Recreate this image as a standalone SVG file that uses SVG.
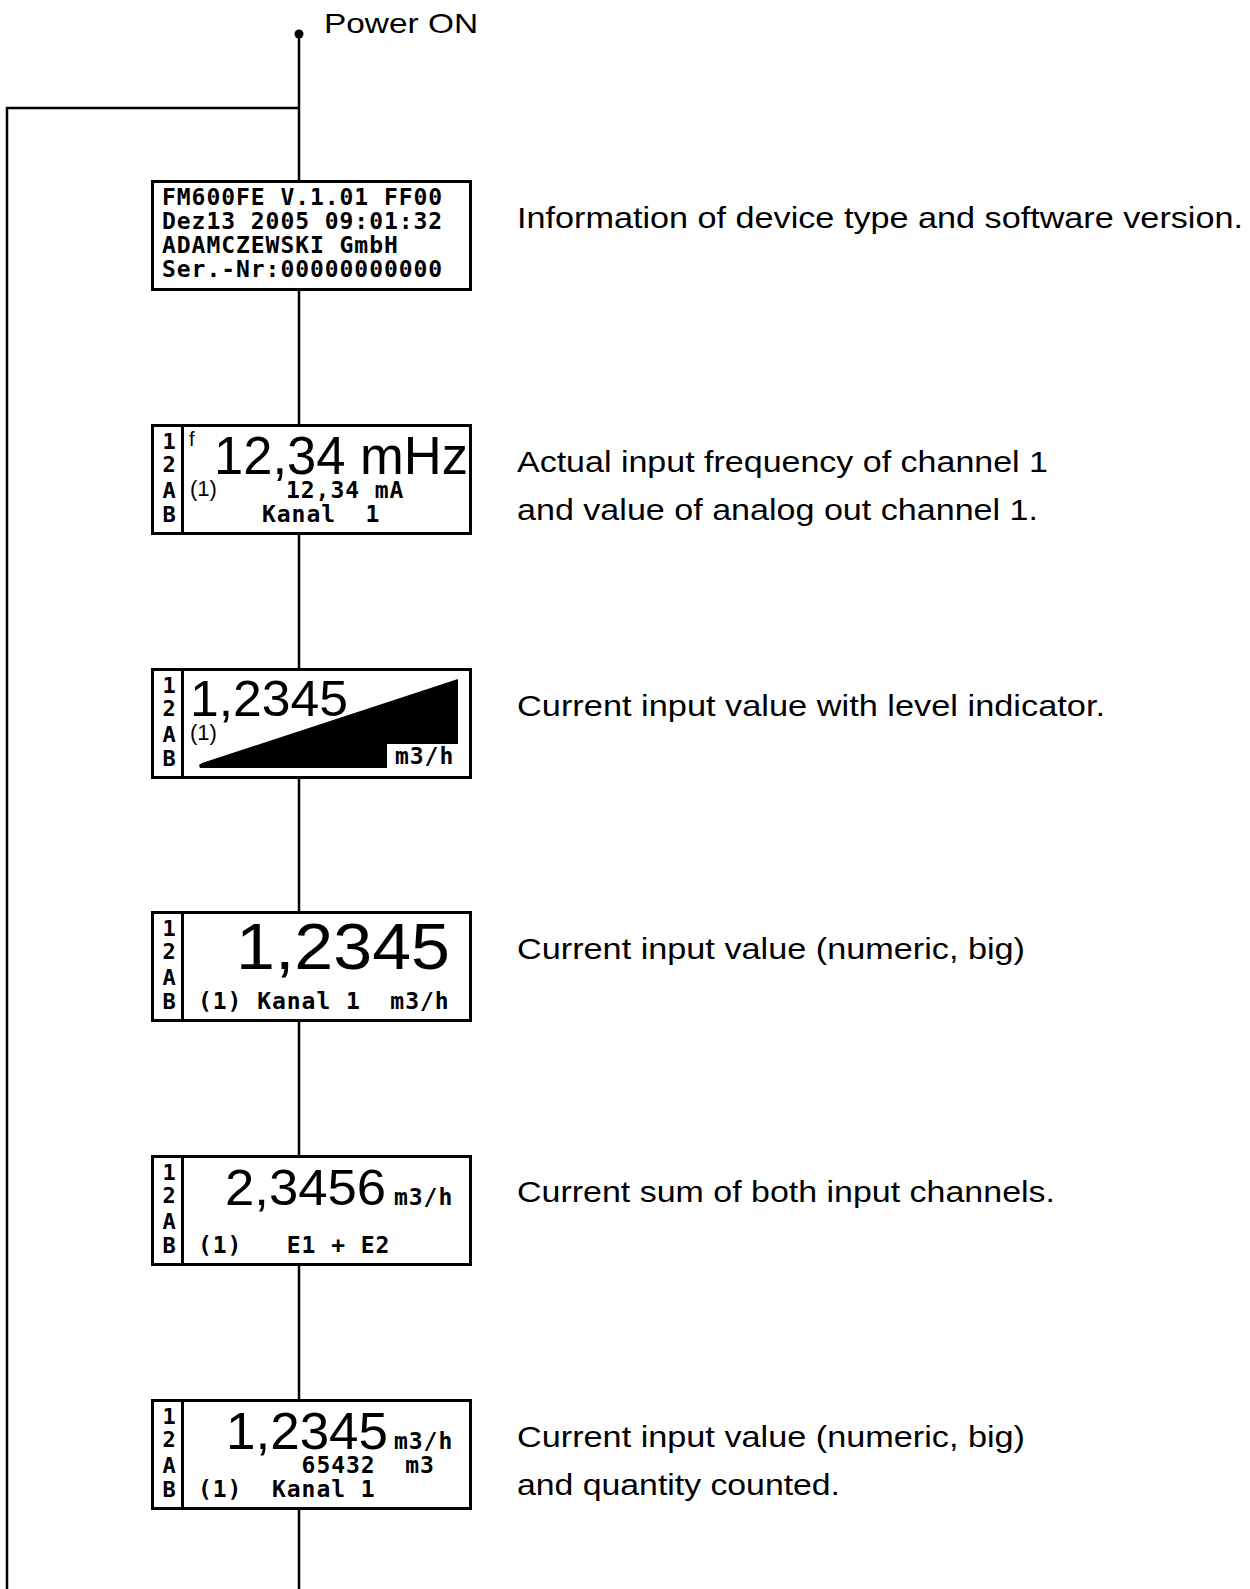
<svg xmlns="http://www.w3.org/2000/svg" width="1250" height="1589" viewBox="0 0 1250 1589" xml:space="preserve">
<style>
.box{fill:#fff;stroke:#000;stroke-width:3}
.sep{stroke:#000;stroke-width:3}
.wire{stroke:#000;stroke-width:2.5;fill:none}
.lcd{font-family:"DejaVu Sans Mono","Liberation Mono",monospace;font-weight:bold;font-size:23px;letter-spacing:0.95px;fill:#000;white-space:pre}
.col{font-family:"DejaVu Sans Mono","Liberation Mono",monospace;font-weight:bold;font-size:22px;text-anchor:middle;fill:#000}
.big{font-family:"Liberation Sans",Arial,sans-serif;fill:#000}
.desc{font-family:"Liberation Sans",Arial,sans-serif;font-size:30px;fill:#000}
</style>
<rect width="1250" height="1589" fill="#fff"/>
<g id="connectors">
<circle cx="299" cy="34" r="4.5" fill="#000"/>
<line class="wire" x1="299" y1="34" x2="299" y2="181"/>
<line class="wire" x1="299" y1="289" x2="299" y2="425"/>
<line class="wire" x1="299" y1="533" x2="299" y2="669"/>
<line class="wire" x1="299" y1="777" x2="299" y2="912"/>
<line class="wire" x1="299" y1="1020" x2="299" y2="1156"/>
<line class="wire" x1="299" y1="1264" x2="299" y2="1400"/>
<line class="wire" x1="299" y1="1508" x2="299" y2="1589"/>
<polyline class="wire" points="299,108 7,108 7,1589"/>
</g>
<g id="power-on">
<text class="big" x="324" y="33" font-size="28" textLength="154" lengthAdjust="spacingAndGlyphs">Power ON</text>
</g>
<g id="node-info">
<rect class="box" x="152.5" y="181.5" width="318" height="108"/>
<text class="lcd" x="162" y="205">FM600FE V.1.01 FF00</text>
<text class="lcd" x="162" y="229">Dez13 2005 09:01:32</text>
<text class="lcd" x="162" y="253">ADAMCZEWSKI GmbH</text>
<text class="lcd" x="162" y="277">Ser.-Nr:00000000000</text>
<text class="desc" x="517" y="228" textLength="726" lengthAdjust="spacingAndGlyphs">Information of device type and software version.</text>
</g>
<g id="node-frequency">
<rect class="box" x="152.5" y="425.5" width="318" height="108"/>
<line class="sep" x1="182.5" y1="425" x2="182.5" y2="534"/>
<text class="col" x="169" y="449">1</text>
<text class="col" x="169" y="472">2</text>
<text class="col" x="169" y="498">A</text>
<text class="col" x="169" y="522">B</text>
<text class="big" x="189" y="446" font-size="20">f</text>
<text class="big" x="214" y="474" font-size="54" textLength="254" lengthAdjust="spacingAndGlyphs">12,34 mHz</text>
<text class="big" x="190" y="496" font-size="22">(1)</text>
<text class="lcd" x="286" y="498">12,34 mA</text>
<text class="lcd" x="262" y="522">Kanal  1</text>
<text class="desc" x="517" y="472" textLength="531" lengthAdjust="spacingAndGlyphs">Actual input frequency of channel 1</text>
<text class="desc" x="517" y="520" textLength="521" lengthAdjust="spacingAndGlyphs">and value of analog out channel 1.</text>
</g>
<g id="node-level">
<rect class="box" x="152.5" y="669.5" width="318" height="108"/>
<line class="sep" x1="182.5" y1="669" x2="182.5" y2="778"/>
<text class="col" x="169" y="693">1</text>
<text class="col" x="169" y="716">2</text>
<text class="col" x="169" y="742">A</text>
<text class="col" x="169" y="766">B</text>
<polygon points="202,763 458,679 458,744 387,744 387,768 200,768 199,765" fill="#000"/>
<text class="big" x="190" y="716" font-size="50" textLength="158" lengthAdjust="spacingAndGlyphs">1,2345</text>
<text class="big" x="190" y="740" font-size="22">(1)</text>
<text class="lcd" x="395" y="764">m3/h</text>
<text class="desc" x="517" y="716" textLength="588" lengthAdjust="spacingAndGlyphs">Current input value with level indicator.</text>
</g>
<g id="node-numeric">
<rect class="box" x="152.5" y="912.5" width="318" height="108"/>
<line class="sep" x1="182.5" y1="912" x2="182.5" y2="1021"/>
<text class="col" x="169" y="936">1</text>
<text class="col" x="169" y="959">2</text>
<text class="col" x="169" y="985">A</text>
<text class="col" x="169" y="1009">B</text>
<text class="big" x="236" y="969" font-size="64" textLength="214" lengthAdjust="spacingAndGlyphs">1,2345</text>
<text class="lcd" x="198" y="1009">(1) Kanal 1  m3/h</text>
<text class="desc" x="517" y="959" textLength="508" lengthAdjust="spacingAndGlyphs">Current input value (numeric, big)</text>
</g>
<g id="node-sum">
<rect class="box" x="152.5" y="1156.5" width="318" height="108"/>
<line class="sep" x1="182.5" y1="1156" x2="182.5" y2="1265"/>
<text class="col" x="169" y="1180">1</text>
<text class="col" x="169" y="1203">2</text>
<text class="col" x="169" y="1229">A</text>
<text class="col" x="169" y="1253">B</text>
<text class="big" x="225" y="1205" font-size="50" textLength="161" lengthAdjust="spacingAndGlyphs">2,3456</text>
<text class="lcd" x="394" y="1205">m3/h</text>
<text class="lcd" x="198" y="1253">(1)   E1 + E2</text>
<text class="desc" x="517" y="1202" textLength="538" lengthAdjust="spacingAndGlyphs">Current sum of both input channels.</text>
</g>
<g id="node-quantity">
<rect class="box" x="152.5" y="1400.5" width="318" height="108"/>
<line class="sep" x1="182.5" y1="1400" x2="182.5" y2="1509"/>
<text class="col" x="169" y="1424">1</text>
<text class="col" x="169" y="1447">2</text>
<text class="col" x="169" y="1473">A</text>
<text class="col" x="169" y="1497">B</text>
<text class="big" x="226" y="1449" font-size="52" textLength="162" lengthAdjust="spacingAndGlyphs">1,2345</text>
<text class="lcd" x="394" y="1449">m3/h</text>
<text class="lcd" x="301.6" y="1473">65432  m3</text>
<text class="lcd" x="198" y="1497">(1)  Kanal 1</text>
<text class="desc" x="517" y="1447" textLength="508" lengthAdjust="spacingAndGlyphs">Current input value (numeric, big)</text>
<text class="desc" x="517" y="1495" textLength="323" lengthAdjust="spacingAndGlyphs">and quantity counted.</text>
</g>
</svg>
